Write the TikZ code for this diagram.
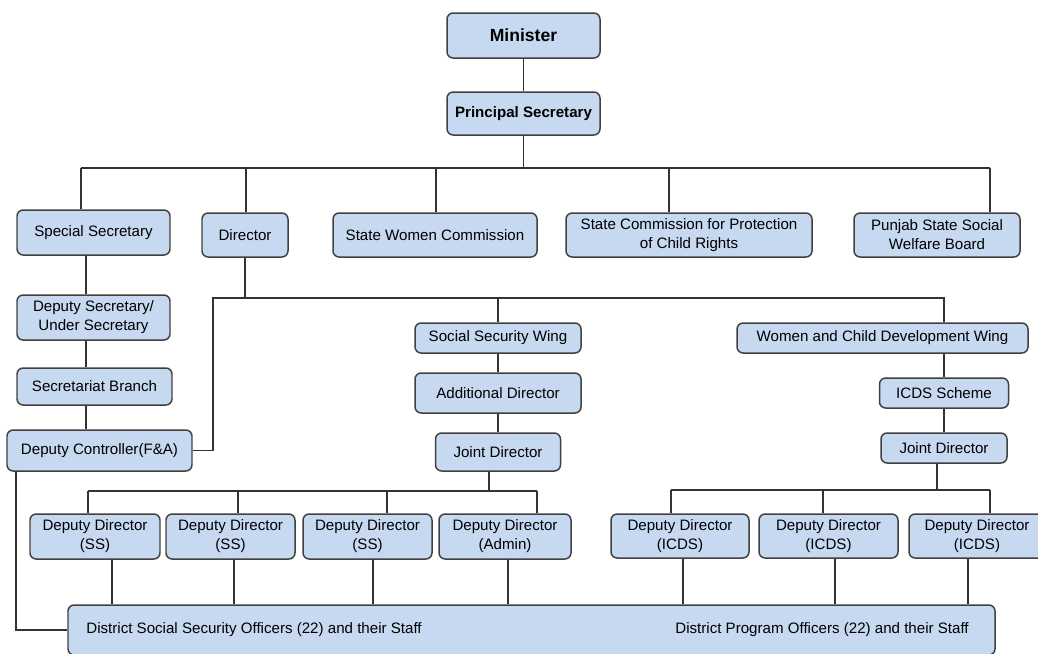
\documentclass[tikz,border=0pt]{standalone}
\usepackage{fontspec}
\setmainfont{Liberation Sans}
\usepackage{xcolor}
\usepackage{tikz}
\usetikzlibrary{positioning}
\definecolor{postblue}{RGB}{198,217,240}
\def\px{0.02cm}

\begin{document}
\begin{tikzpicture}[x=\px,y=-\px]
    \tikzstyle{post}=[draw=black!75,fill=postblue,rounded corners=3.5pt,line width=0.85pt,inner sep=1pt,align=center,font=\fontsize{8.6}{10.8}\selectfont]
    \tikzstyle{chief}=[post,font=\bfseries\fontsize{10}{12}\selectfont]
    \tikzstyle{link}=[draw=black!80,line width=1.1pt]
    \tikzstyle{label}=[anchor=west,inner sep=0pt,font=\fontsize{8.6}{10.8}\selectfont]
    \tikzset{wh/.style 2 args={minimum width=#1*\px,minimum height=#2*\px}}

    \useasboundingbox (0,0) rectangle (1038,653);
    \clip (0,0) rectangle (1038,653);

    % Minister and the first row
    \node[chief,wh={153}{45}] (min) at (523.5,35.5) {Minister};
    \node[chief,wh={153}{43},font=\bfseries\fontsize{8.6}{10}\selectfont] (ps) at (523.5,113.5) {Principal Secretary};

    \node[post,wh={153}{45}] (spsec) at (93.5,232.5) {Special Secretary};
    \node[post,wh={86}{44}] (dir) at (245,235) {Director};
    \node[post,wh={204}{44}] (swc) at (435,235) {State Women Commission};
    \node[post,wh={246}{44}] (scpcr) at (689,235) {State Commission for Protection\\of Child Rights};
    \node[post,wh={166}{44}] (pssw) at (937,235) {Punjab State Social\\Welfare Board};

    % Secretariat column
    \node[post,wh={153}{45}] (depsec) at (93.5,317.5) {Deputy Secretary/\\Under Secretary};
    \node[post,wh={155}{37}] (secbr) at (94.5,386.5) {Secretariat Branch};
    \node[post,wh={185}{41}] (dcon) at (99.5,450.5) {Deputy Controller(F\&A)};

    % The two wings
    \node[post,wh={166}{30}] (ssw) at (498,338) {Social Security Wing};
    \node[post,wh={166}{40}] (adddir) at (498,393) {Additional Director};
    \node[post,wh={125}{38}] (jdss) at (498,452) {Joint Director};

    \node[post,wh={291}{30}] (wcdw) at (882.5,338) {Women and Child Development Wing};
    \node[post,wh={129}{30}] (icds) at (944,393) {ICDS Scheme};
    \node[post,wh={126}{30}] (jdicds) at (944,448) {Joint Director};

    % Deputy directors
    \foreach \name/\x/\w/\wing in {1/95/130/SS,2/230.5/129/SS,3/367.5/129/SS,4/505/132/Admin}
        \node[post,wh={\w}{45}] (dss-\name) at (\x,536.5) {Deputy Director\\(\wing)};
    \foreach \name/\x/\w in {1/680/138,2/828.5/139,3/977/136}
        \node[post,wh={\w}{44}] (dicds-\name) at (\x,536) {Deputy Director\\(ICDS)};

    % District officers
    \node[post,wh={927}{50}] (dist) at (531.5,630) {};
    \node[label] (dsso) at (86,630) {District Social Security Officers (22) and their Staff};
    \node[label] (dpo) at (675,630) {District Program Officers (22) and their Staff};

    % Minister down to the first row
    \draw[link] (min) -- (ps);
    \coordinate (top-l) at (81,168);
    \coordinate (top-r) at (990,168);
    \draw[link] (top-l) -- (top-r);
    \draw[link] (ps) -- (ps |- top-l);
    \foreach \n/\x in {spsec/81,dir/246,swc/436,scpcr/669,pssw/990} {
        \coordinate (t-\n) at (\x,168);
        \draw[link] (t-\n) -- (\n.north -| t-\n);
    }

    % Secretariat column
    \coordinate (lcol) at (86,0);
    \foreach \a/\b in {spsec/depsec,depsec/secbr,secbr/dcon}
        \draw[link] (\a.south -| lcol) -- (\b.north -| lcol);
    \coordinate (lft) at (16,0);
    \draw[link] (dcon.south -| lft) |- (dist.west);

    % Director down to the wings
    \coordinate (dbus-l) at (213,298);
    \coordinate (dbus-r) at (944,298);
    \draw[link] (dir) -- (dir |- dbus-l);
    \draw[link] (dcon.east) -| (dbus-l) -- (dbus-r) -- (wcdw.north -| dbus-r);
    \draw[link] (ssw) -- (ssw |- dbus-l);
    \draw[link] (ssw) -- (adddir);
    \draw[link] (adddir) -- (jdss);
    \draw[link] (wcdw.south -| icds) -- (icds);
    \draw[link] (icds) -- (jdicds);

    % Social security deputy directors
    \coordinate (ssbus) at (489,491);
    \draw[link] (jdss.south -| ssbus) -- (ssbus);
    \draw[link] (88,491) -- (537,491);
    \foreach \name/\up/\down in {1/88/112,2/238/234,3/387/373,4/537/508} {
        \coordinate (su-\name) at (\up,491);
        \coordinate (sd-\name) at (\down,0);
        \draw[link] (su-\name) -- (dss-\name.north -| su-\name);
        \draw[link] (dss-\name.south -| sd-\name) -- (dist.north -| sd-\name);
    }

    % ICDS deputy directors
    \coordinate (icbus) at (937,490);
    \draw[link] (jdicds.south -| icbus) -- (icbus);
    \draw[link] (671,490) -- (990,490);
    \foreach \name/\up/\down in {1/671/683,2/823/835,3/990/968} {
        \coordinate (iu-\name) at (\up,490);
        \coordinate (id-\name) at (\down,0);
        \draw[link] (iu-\name) -- (dicds-\name.north -| iu-\name);
        \draw[link] (dicds-\name.south -| id-\name) -- (dist.north -| id-\name);
    }

\end{tikzpicture}
\end{document}
